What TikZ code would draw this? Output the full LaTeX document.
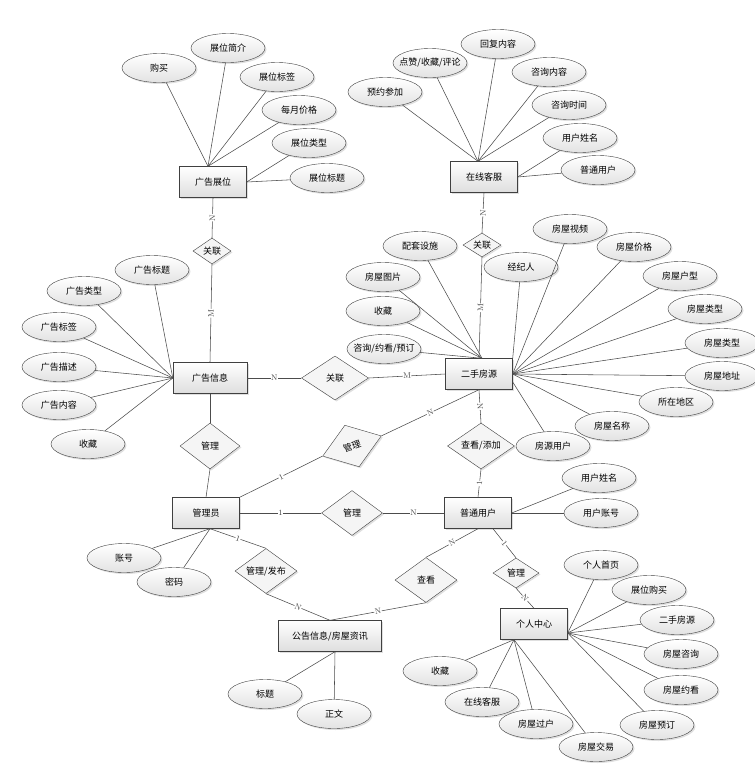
\documentclass[tikz,border=0pt]{standalone}
\usepackage{fontspec}
\newfontfamily\cjk{Noto Sans CJK SC}
\usetikzlibrary{shapes.geometric,shadows}

\begin{document}
\begin{tikzpicture}[x=1pt, y=-1pt,
	font=\cjk\fontsize{9}{10}\selectfont,
	linie/.style={draw=black!70, line width=0.55pt},
	schatten/.style={drop shadow={opacity=0.25, shadow xshift=1.5pt, shadow yshift=-1.5pt}},
	entitaet/.style={rectangle, draw=black!75, top color=white, bottom color=black!13, minimum width=67pt, minimum height=31pt, inner sep=1pt, schatten},
	attribut/.style={ellipse, draw=black!75, top color=white, bottom color=black!11, minimum width=74pt, minimum height=29pt, inner xsep=-8pt, inner ysep=0pt, schatten},
	beziehung/.style={diamond, draw=black!75, fill=black!4, aspect=1.5, inner sep=0pt, schatten},
	kard/.style={font=\rmfamily\fontsize{8}{8}\selectfont, text=black!75, fill=white, inner sep=0.5pt, sloped}]

\useasboundingbox (0,0) rectangle (755,780);

%% Entitaeten
\node[entitaet] (zhanwei) at (213,182) {广告展位};
\node[entitaet] (kefu) at (484,177) {在线客服};
\node[entitaet] (fangyuan) at (479,374) {二手房源};
\node[entitaet, minimum width=74pt] (guanggao) at (210,378) {广告信息};
\node[entitaet] (admin) at (206,513) {管理员};
\node[entitaet] (nutzer) at (478,513) {普通用户};
\node[entitaet] (zentrum) at (534,624) {个人中心};
\node[entitaet, minimum width=103pt] (notiz) at (330,636) {公告信息/房屋资讯};
%%%%%%%%%%%%%%%%

%% Beziehungen
\node[beziehung, minimum width=38pt, minimum height=26pt] (rel1) at (212,251) {关联};
\node[beziehung, minimum width=38pt, minimum height=24pt] (rel2) at (482,245) {关联};
\node[beziehung, minimum width=67pt, minimum height=44pt] (rel3) at (335,378) {关联};
\node[beziehung, minimum width=60pt, minimum height=46pt] (verw1) at (210,446) {管理};
\node[beziehung, rotate=19, minimum width=62pt, minimum height=44pt] (verw2) at (352,446) {管理};
\node[beziehung, minimum width=67pt, minimum height=46pt] (sicht1) at (481,446) {查看/添加};
\node[beziehung, minimum width=61pt, minimum height=45pt] (verw3) at (352,513) {管理};
\node[beziehung, minimum width=62pt, minimum height=45pt] (verw4) at (266,571) {管理/发布};
\node[beziehung, minimum width=62pt, minimum height=45pt] (sicht2) at (426,580) {查看};
\node[beziehung, minimum width=46pt, minimum height=30pt] (verw5) at (516,573) {管理};
%%%%%%%%%%%%%%%%

%% Verbindungen
\draw[linie] (zhanwei.south) -- node[kard] {N} (rel1.north);
\draw[linie] (rel1.south) -- node[kard] {M} (guanggao.north);
\draw[linie] (kefu.south) -- node[kard] {N} (rel2.north);
\draw[linie] (rel2.south) -- node[kard] {M} (fangyuan.north);
\draw[linie] (guanggao.east) -- node[kard] {N} (rel3.west);
\draw[linie] (rel3.east) -- node[kard] {M} (fangyuan.west);
\draw[linie] (guanggao.south) -- (verw1.north);
\draw[linie] (verw1.south) -- (admin.north);
\draw[linie] (admin.north east) -- node[kard] {1} (verw2.west);
\draw[linie] (verw2.east) -- node[kard] {N} (fangyuan.south);
\draw[linie] (fangyuan.south) -- node[kard] {N} (sicht1.north);
\draw[linie] (sicht1.south) -- node[kard] {1} (nutzer.north);
\draw[linie] (admin.east) -- node[kard] {1} (verw3.west);
\draw[linie] (verw3.east) -- node[kard] {N} (nutzer.west);
\draw[linie] ([xshift=4pt]admin.south) -- node[kard] {1} (verw4.north);
\draw[linie] (verw4.south) -- node[kard] {N} (notiz.north);
\draw[linie] (nutzer.south) -- node[kard] {N} (sicht2.north);
\draw[linie] (sicht2.south) -- node[kard] {N} (notiz.north);
\draw[linie] ([xshift=15pt]nutzer.south) -- node[kard] {1} (verw5.north);
\draw[linie] (verw5.south) -- node[kard] {N} (zentrum.north);
%%%%%%%%%%%%%%%%

%% Attribute: 广告展位
\node[attribut] (zw1) at (159,68) {购买};
\node[attribut] (zw2) at (228,48) {展位简介};
\node[attribut] (zw3) at (277,77) {展位标签};
\node[attribut] (zw4) at (299,110) {每月价格};
\node[attribut] (zw5) at (309,143) {展位类型};
\node[attribut] (zw6) at (327,178) {展位标题};
\foreach \i in {1,...,4}
	\draw[linie] (zw\i) -- ([xshift=-5pt]zhanwei.north);
\draw[linie] (zw5) -- (zhanwei.east);
\draw[linie] (zw6) -- (zhanwei.east);

%% Attribute: 在线客服
\node[attribut] (kf1) at (385,92) {预约参加};
\node[attribut] (kf2) at (430,63) {点赞/收藏/评论};
\node[attribut] (kf3) at (498,44) {回复内容};
\node[attribut] (kf4) at (549,72) {咨询内容};
\node[attribut] (kf5) at (569,105) {咨询时间};
\node[attribut] (kf6) at (580,138) {用户姓名};
\node[attribut] (kf7) at (598,170) {普通用户};
\foreach \i in {1,...,5}
	\draw[linie] (kf\i) -- ([xshift=-6pt]kefu.north);
\draw[linie] (kf6) -- (kefu.east);
\draw[linie] (kf7) -- (kefu.east);

%% Attribute: 二手房源
\node[attribut] (fy1) at (420,246) {配套设施};
\node[attribut] (fy2) at (383,277) {房屋图片};
\node[attribut] (fy3) at (383,311) {收藏};
\node[attribut] (fy4) at (384,349) {咨询/约看/预订};
\node[attribut] (fy5) at (521,267) {经纪人};
\node[attribut] (fy6) at (570,229) {房屋视频};
\node[attribut] (fy7) at (634,247) {房屋价格};
\node[attribut] (fy8) at (680,276) {房屋户型};
\node[attribut] (fy9) at (705,309) {房屋类型};
\node[attribut] (fy10) at (722,343) {房屋类型};
\node[attribut] (fy11) at (722,376) {房屋地址};
\node[attribut] (fy12) at (676,402) {所在地区};
\node[attribut] (fy13) at (612,426) {房屋名称};
\node[attribut] (fy14) at (553,446) {房源用户};
\foreach \i in {1,...,4}
	\draw[linie] (fy\i) -- ([xshift=3pt]fangyuan.north);
\draw[linie] (fy5) -- (fangyuan.north east);
\foreach \i in {6,...,13}
	\draw[linie] (fy\i) -- (fangyuan.east);
\draw[linie] (fy14) -- ([yshift=-8pt]fangyuan.east);

%% Attribute: 广告信息
\node[attribut] (gg1) at (152,270) {广告标题};
\node[attribut] (gg2) at (84,291) {广告类型};
\node[attribut] (gg3) at (59,327) {广告标签};
\node[attribut] (gg4) at (59,367) {广告描述};
\node[attribut] (gg5) at (59,405) {广告内容};
\node[attribut] (gg6) at (88,444) {收藏};
\foreach \i in {1,...,6}
	\draw[linie] (gg\i) -- (guanggao.west);

%% Attribute: 管理员
\node[attribut] (ad1) at (124,558) {账号};
\node[attribut] (ad2) at (174,582) {密码};
\draw[linie] (ad1) -- ([xshift=4pt]admin.south);
\draw[linie] (ad2) -- ([xshift=4pt]admin.south);

%% Attribute: 普通用户
\node[attribut] (nu1) at (599,478) {用户姓名};
\node[attribut] (nu2) at (601,513) {用户账号};
\draw[linie] (nu1) -- (nutzer.east);
\draw[linie] (nu2) -- (nutzer.east);

%% Attribute: 个人中心
\node[attribut] (zt1) at (601,565) {个人首页};
\node[attribut] (zt2) at (649,590) {展位购买};
\node[attribut] (zt3) at (677,620) {二手房源};
\node[attribut] (zt4) at (681,654) {房屋咨询};
\node[attribut] (zt5) at (681,690) {房屋约看};
\node[attribut] (zt6) at (657,725) {房屋预订};
\node[attribut] (zt7) at (596,747) {房屋交易};
\node[attribut] (zt8) at (536,724) {房屋过户};
\node[attribut] (zt9) at (482,702) {在线客服};
\node[attribut] (zt10) at (440,671) {收藏};
\foreach \i in {1,...,6}
	\draw[linie] (zt\i) -- ([yshift=-9pt]zentrum.east);
\foreach \i in {7,...,10}
	\draw[linie] (zt\i) -- ([xshift=-20pt]zentrum.south);

%% Attribute: 公告信息/房屋资讯
\node[attribut] (nz1) at (265,694) {标题};
\node[attribut] (nz2) at (334,714) {正文};
\draw[linie] (nz1) -- ([xshift=5pt]notiz.south);
\draw[linie] (nz2) -- ([xshift=5pt]notiz.south);

\end{tikzpicture}
\end{document}
